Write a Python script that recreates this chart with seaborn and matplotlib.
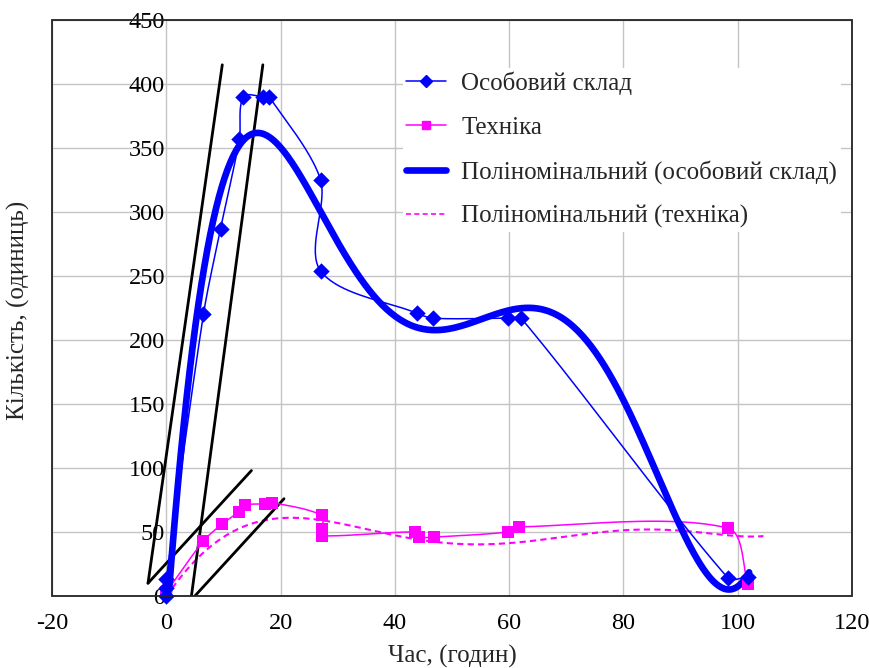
import numpy as np
import seaborn as sns
import matplotlib
matplotlib.use("Agg")
import matplotlib.pyplot as plt
from matplotlib.lines import Line2D
from matplotlib.patches import Rectangle

# ---- data ----
staff_time = [0, 0, 0, 6.5, 9.5, 12.8, 13.5, 17, 18, 27, 27, 43.8, 46.7, 59.8, 62.1, 98.3, 101.8]
staff_count = [0, 6, 13, 220, 287, 357, 390, 390, 390, 325, 254, 221, 217, 217, 217, 14, 15]

tech_time = [0, 6.5, 9.7, 12.8, 13.7, 17.3, 18.5, 27.2, 27.2, 27.2, 43.5, 44.2, 46.8, 59.8, 61.8, 98.3, 101.8]
tech_count = [3, 43, 56, 66, 71, 72, 73, 63, 52, 47, 50, 46, 46, 50, 54, 53, 9]

# polynomial trendlines (sample points on each curve)
staff_trend_time = [0.9, 2.4, 5.9, 8.8, 12.9, 15.8, 23.4, 27.5, 32.2, 37.4, 47.3, 55, 62.4,
                    72.4, 80, 89.6, 93.4, 96.0, 98.1, 100.0, 101.8]
staff_trend_count = [18, 122, 226, 307, 354, 359, 333, 294, 260, 229, 208, 216, 225,
                     202, 160, 51.6, 22.7, 13, 8.6, 9, 14]
tech_trend_time = [0.6, 5.3, 9.4, 14.6, 21.6, 32.2, 39.2, 49.1, 59.7, 72.4, 86.4, 98.1, 104.2]
tech_trend_count = [3, 30, 44, 54, 62, 58, 46, 39.3, 43, 49, 49.5, 49.5, 45.9]

# tangent construction lines (start/end points)
tang_a_x = [-3.2, 9.8]
tang_a_y = [10, 415]
tang_b_x = [4.4, 16.9]
tang_b_y = [0, 415]
tang_c_x = [-3.2, 14.9]
tang_c_y = [10, 98]
tang_d_x = [5.0, 20.6]
tang_d_y = [0, 76]

x_ticks = [-20, 0, 20, 40, 60, 80, 100, 120]
y_ticks = [0, 50, 100, 150, 200, 250, 300, 350, 400, 450]

labels = ["Особовий склад", "Техніка",
          "Поліномінальний (особовий склад)", "Поліномінальний (техніка)"]

BLUE = "#0000ff"
MAG = "#ff00ff"
PX_X = 800 / 140.0   # pixels per x unit
PX_Y = 576 / 450.0   # pixels per y unit


def smooth(xs, ys, n=40, k=0.28):
    """Excel-like smoothed line: cubic Bezier segments, tangents from neighbours,
    handle length scaled by the segment length (computed in screen space)."""
    Q = np.column_stack([np.asarray(xs, float) * PX_X, np.asarray(ys, float) * PX_Y])
    m = len(Q)
    tang = np.zeros_like(Q)
    for i in range(m):
        a = Q[max(i - 1, 0)]
        b = Q[min(i + 1, m - 1)]
        d = b - a
        nrm = np.hypot(*d)
        tang[i] = d / nrm if nrm > 0 else 0
    t = np.linspace(0, 1, n)[:, None]
    out = []
    for i in range(m - 1):
        p1, p2 = Q[i], Q[i + 1]
        L = np.hypot(*(p2 - p1))
        c1 = p1 + tang[i] * L * k
        c2 = p2 - tang[i + 1] * L * k
        seg = (1 - t) ** 3 * p1 + 3 * (1 - t) ** 2 * t * c1 + 3 * (1 - t) * t ** 2 * c2 + t ** 3 * p2
        out.append(seg if i == 0 else seg[1:])
    S = np.vstack(out)
    return S[:, 0] / PX_X, S[:, 1] / PX_Y


sns.set_theme(style="white")
plt.rcParams["font.family"] = ["Liberation Serif", "DejaVu Serif"]
plt.rcParams["axes.unicode_minus"] = False

fig = plt.figure(figsize=(8.69, 6.68), dpi=100)
ax = fig.add_axes([52 / 869, 1 - 596 / 668, 800 / 869, 576 / 668])

ax.set_xlim(-20, 120)
ax.set_ylim(0, 450)
ax.set_xticks(x_ticks)
ax.set_yticks(y_ticks)
ax.grid(True, color="#c4c4c4", linewidth=1.0)
ax.set_axisbelow(True)

# polynomial trendlines through the read curve points
ps = np.polynomial.Polynomial.fit(staff_trend_time, staff_trend_count, 7)
pt = np.polynomial.Polynomial.fit(tech_trend_time, tech_trend_count, 6)
xs_fit = np.linspace(0, 102, 400)
xt_fit = np.linspace(0, 104.5, 400)
sns.lineplot(x=xt_fit, y=pt(xt_fit), ax=ax, color=MAG, linewidth=1.5,
             linestyle=(0, (3, 2)), sort=False, estimator=None)

# black tangent lines
for tx, ty in [(tang_a_x, tang_a_y), (tang_b_x, tang_b_y),
               (tang_c_x, tang_c_y), (tang_d_x, tang_d_y)]:
    sns.lineplot(x=tx, y=ty, ax=ax, color="black", linewidth=2.0,
                 sort=False, estimator=None)

# smoothed data lines
sx, sy = smooth(staff_time, staff_count)
tx_, ty_ = smooth(tech_time, tech_count)
ax.plot(tx_, ty_, color=MAG, linewidth=1.1)
ax.plot(sx, sy, color=BLUE, linewidth=1.1)

# thick blue trend
sns.lineplot(x=xs_fit, y=ps(xs_fit), ax=ax, color=BLUE, linewidth=4.8,
             sort=False, estimator=None)

# markers
sns.scatterplot(x=tech_time, y=tech_count, ax=ax, color=MAG, marker="s", s=65,
                linewidth=0, zorder=5, clip_on=False)
sns.scatterplot(x=staff_time, y=staff_count, ax=ax, color=BLUE, marker="D", s=70,
                linewidth=0, zorder=6, clip_on=False)

# axes: y labels sit next to x = 0, frame drawn as a box
for s in ax.spines.values():
    s.set_visible(False)
ax.spines["left"].set_position(("data", 0))
ax.add_patch(Rectangle((0, 0), 1, 1, transform=ax.transAxes, fill=False,
                       edgecolor="#222222", linewidth=1.3, clip_on=False, zorder=10))
ax.tick_params(axis="both", length=0, labelsize=17.5, colors="black")
ax.tick_params(axis="x", pad=12)
ax.tick_params(axis="y", pad=1)

ax.set_xlabel("Час, (годин)", fontsize=18, labelpad=8)
ax.set_ylabel("")
fig.text(18 / 869, 1 - 310 / 668, "Кількість, (одиниць)", rotation=90,
         ha="center", va="center", fontsize=18)

handles = [
    Line2D([], [], color=BLUE, linewidth=1.1, marker="D", markersize=6),
    Line2D([], [], color=MAG, linewidth=1.1, marker="s", markersize=6),
    Line2D([], [], color=BLUE, linewidth=4.8),
    Line2D([], [], color=MAG, linewidth=1.2, linestyle=(0, (3, 2))),
]
leg = ax.legend(handles, labels, loc="upper left",
                bbox_to_anchor=(390 / 869, 1 - 55 / 668),
                bbox_transform=fig.transFigure, fontsize=18,
                frameon=True, facecolor="white", edgecolor="none", framealpha=1,
                labelspacing=0.85, handlelength=1.6, handletextpad=0.6,
                borderpad=0.15, fancybox=False)
leg.set_zorder(20)

fig.savefig("out.png", dpi=100)
